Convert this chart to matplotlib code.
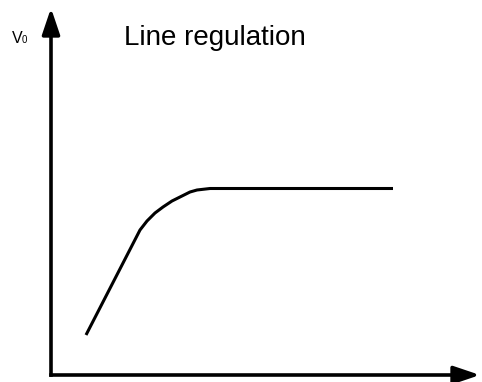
import matplotlib
matplotlib.use("Agg")
import matplotlib.pyplot as plt
from matplotlib.patches import FancyArrowPatch

# output voltage vs input voltage (arbitrary units, origin at the axes corner)
v_in = [35, 89, 96, 104, 112, 121, 129, 139, 146, 159, 342]
v_out = [40, 145, 154, 162, 168, 174, 178, 183, 185, 186.5, 186.5]

title = "Line regulation"
y_label = "V"
y_sub = "0"

W, H = 482, 382
fig = plt.figure(figsize=(W / 100, H / 100), dpi=100)
ax = fig.add_axes([0, 0, 1, 1])
# axes corner sits 51 px from the left and 7 px from the bottom
ax.set_xlim(-51, W - 51)
ax.set_ylim(-7, H - 7)
ax.axis("off")

ax.plot(v_in, v_out, color="black", lw=2.2, solid_capstyle="butt",
        solid_joinstyle="round")

# hand-drawn style axes with filled arrow heads
arrow_kw = dict(arrowstyle="-|>,head_length=0.8,head_width=0.27",
                mutation_scale=20, lw=2.6, color="black",
                shrinkA=0, shrinkB=0, capstyle="butt")
ax.add_patch(FancyArrowPatch((-1.8, 0), (429, 0), **arrow_kw))
ax.add_patch(FancyArrowPatch((0, -1.8), (0, 367), **arrow_kw))

font = "Liberation Sans"
fig.text(124 / W, 1 - 45 / H, title, family=font, fontsize=20,
         ha="left", va="baseline")
fig.text(11.5 / W, 1 - 43 / H, y_label, family=font, fontsize=11.5,
         ha="left", va="baseline")
fig.text(22 / W, 1 - 43 / H, y_sub, family=font, fontsize=7,
         ha="left", va="baseline")

fig.savefig("out.png", dpi=100)
